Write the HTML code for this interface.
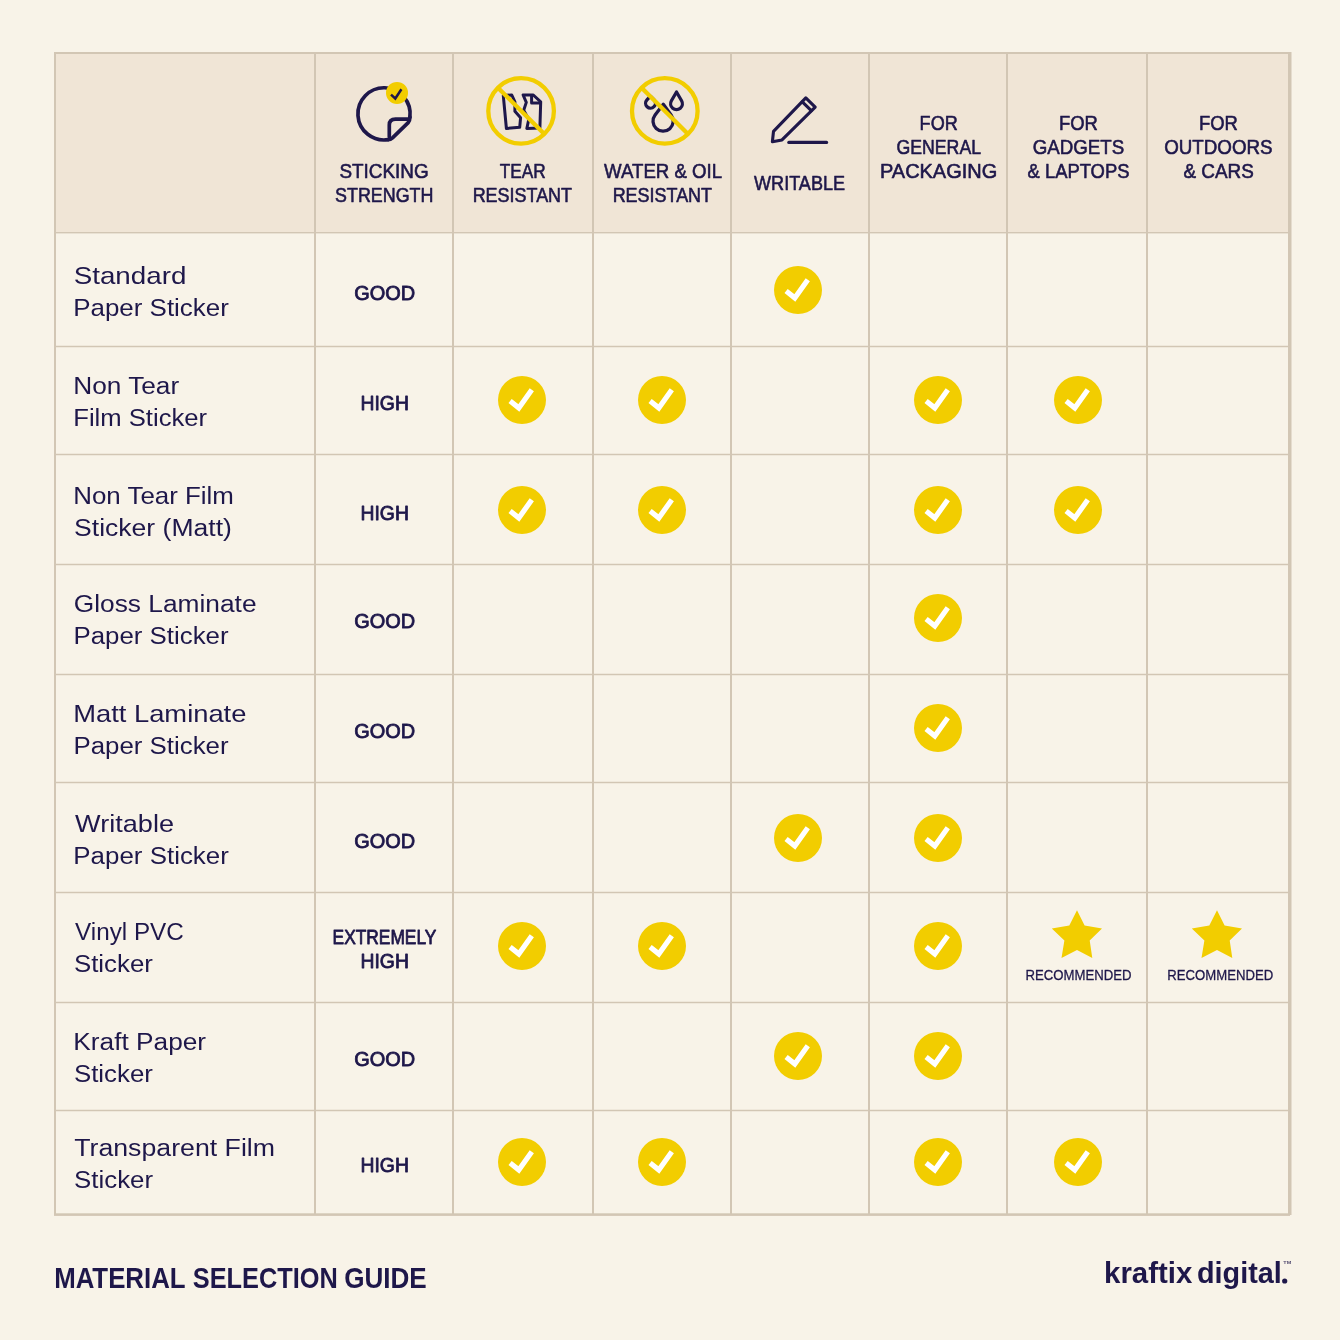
<!DOCTYPE html>
<html><head><meta charset="utf-8"><style>
html,body{margin:0;padding:0;background:#F8F3E8;}
body{width:1340px;height:1340px;overflow:hidden;}
svg{display:block;will-change:transform;}
text{font-family:"Liberation Sans", sans-serif;fill:#1E174A;}
</style></head><body>
<svg width="1340" height="1340" viewBox="0 0 1340 1340">
<rect width="1340" height="1340" fill="#F8F3E8"/>
<rect x="55" y="53" width="1234" height="180" fill="#F0E5D6"/>
<rect x="54" y="52" width="2" height="1163" fill="#D2C6B4"/>
<rect x="314" y="52" width="2" height="1163" fill="#D2C6B4"/>
<rect x="452" y="52" width="2" height="1163" fill="#D2C6B4"/>
<rect x="592" y="52" width="2" height="1163" fill="#D2C6B4"/>
<rect x="730" y="52" width="2" height="1163" fill="#D2C6B4"/>
<rect x="868" y="52" width="2" height="1163" fill="#D2C6B4"/>
<rect x="1006" y="52" width="2" height="1163" fill="#D2C6B4"/>
<rect x="1146" y="52" width="2" height="1163" fill="#D2C6B4"/>
<rect x="1288" y="52" width="3.5" height="1163" fill="#D2C6B4"/>
<rect x="54" y="52" width="1236" height="2" fill="#D2C6B4"/>
<rect x="54" y="232" width="1236" height="1.4" fill="#D2C6B4"/>
<rect x="54" y="345.75" width="1236" height="1.5" fill="#D2C6B4"/>
<rect x="54" y="453.75" width="1236" height="1.5" fill="#D2C6B4"/>
<rect x="54" y="563.75" width="1236" height="1.5" fill="#D2C6B4"/>
<rect x="54" y="673.75" width="1236" height="1.5" fill="#D2C6B4"/>
<rect x="54" y="781.75" width="1236" height="1.5" fill="#D2C6B4"/>
<rect x="54" y="891.75" width="1236" height="1.5" fill="#D2C6B4"/>
<rect x="54" y="1001.75" width="1236" height="1.5" fill="#D2C6B4"/>
<rect x="54" y="1109.75" width="1236" height="1.5" fill="#D2C6B4"/>
<rect x="54" y="1213.3" width="1236" height="2.6" fill="#D2C6B4"/>

<g fill="none" stroke="#1E174A" stroke-width="3.7" stroke-linecap="round" stroke-linejoin="round">
  <path d="M409.9 117.2 A26.1 26.1 0 1 0 388.2 139.6"/>
  <path d="M388.2 139.6 Q390.5 139.6 392.5 137.8 L408.2 122.6 Q409.9 121 409.9 117.2"/>
  <path d="M389.3 136.8 L389.3 125 Q389.3 119.1 395.5 119.1 L408.6 119.1"/>
</g>
<circle cx="397" cy="92.9" r="11" fill="#F2CD00"/>
<path d="M391 94.6 L395.3 98.5 L401.4 89.3" fill="none" stroke="#1E174A" stroke-width="2.5"/>

<g fill="none" stroke="#1E174A" stroke-width="3" stroke-linejoin="round">
  <path d="M503.3 95.6 L511.8 95 L514.9 101.8 L514.9 111.2 L520.6 117.7 L519.7 127.3 L506.4 128.5 Z"/>
  <path d="M523.1 95 L533.3 95 L540.7 101.8 L539.9 127.9 L526.8 128.5 L528.8 119.4 L523.7 110.3 L526.3 102.4 Z"/>
  <path d="M531.6 96.1 L531.6 102.9 L540.2 102.9"/>
</g>
<g fill="none" stroke="#F2CD00" stroke-width="4.3">
  <circle cx="521.1" cy="110.9" r="32.8"/>
  <line x1="497.9" y1="87.7" x2="544.3" y2="134.1"/>
</g>

<g fill="none" stroke="#1E174A" stroke-width="3.3" stroke-linejoin="round">
  <path d="M676.50 92.00 L681.59 100.72 A5.9 5.9 0 1 1 671.41 100.72 Z"/>
  <path d="M650.40 96.20 L653.95 99.72 A4.9 4.9 0 1 1 646.95 99.82 Z"/>
  <path d="M663.30 104.20 L671.27 115.16 A10.1 10.1 0 1 1 655.07 114.97 Z"/>
</g>
<g fill="none" stroke="#F2CD00" stroke-width="4.3">
  <circle cx="664.8" cy="110.9" r="32.8"/>
  <line x1="641.6" y1="87.7" x2="688" y2="134.1"/>
</g>

<g fill="none" stroke="#1E174A" stroke-width="3.1" stroke-linejoin="round" stroke-linecap="round">
  <path d="M772.4 141.7 L773.5 131.4 L805.8 97.9 L815.2 107.1 L782 139.9 Z"/>
  <path d="M802.3 101.8 L811.3 110.7"/>
  <path d="M788.8 142.4 L826.6 142.4"/>
</g>

<circle cx="798" cy="290" r="24" fill="#F2CD00"/><path d="M786.1 291.0 L794.8 297.9 L807.8 279.8" fill="none" stroke="#fff" stroke-width="5.2" stroke-linejoin="miter"/>
<circle cx="522" cy="400" r="24" fill="#F2CD00"/><path d="M510.1 401.0 L518.8 407.9 L531.8 389.8" fill="none" stroke="#fff" stroke-width="5.2" stroke-linejoin="miter"/>
<circle cx="662" cy="400" r="24" fill="#F2CD00"/><path d="M650.1 401.0 L658.8 407.9 L671.8 389.8" fill="none" stroke="#fff" stroke-width="5.2" stroke-linejoin="miter"/>
<circle cx="938" cy="400" r="24" fill="#F2CD00"/><path d="M926.1 401.0 L934.8 407.9 L947.8 389.8" fill="none" stroke="#fff" stroke-width="5.2" stroke-linejoin="miter"/>
<circle cx="1078" cy="400" r="24" fill="#F2CD00"/><path d="M1066.1 401.0 L1074.8 407.9 L1087.8 389.8" fill="none" stroke="#fff" stroke-width="5.2" stroke-linejoin="miter"/>
<circle cx="522" cy="510" r="24" fill="#F2CD00"/><path d="M510.1 511.0 L518.8 517.9 L531.8 499.8" fill="none" stroke="#fff" stroke-width="5.2" stroke-linejoin="miter"/>
<circle cx="662" cy="510" r="24" fill="#F2CD00"/><path d="M650.1 511.0 L658.8 517.9 L671.8 499.8" fill="none" stroke="#fff" stroke-width="5.2" stroke-linejoin="miter"/>
<circle cx="938" cy="510" r="24" fill="#F2CD00"/><path d="M926.1 511.0 L934.8 517.9 L947.8 499.8" fill="none" stroke="#fff" stroke-width="5.2" stroke-linejoin="miter"/>
<circle cx="1078" cy="510" r="24" fill="#F2CD00"/><path d="M1066.1 511.0 L1074.8 517.9 L1087.8 499.8" fill="none" stroke="#fff" stroke-width="5.2" stroke-linejoin="miter"/>
<circle cx="938" cy="618" r="24" fill="#F2CD00"/><path d="M926.1 619.0 L934.8 625.9 L947.8 607.8" fill="none" stroke="#fff" stroke-width="5.2" stroke-linejoin="miter"/>
<circle cx="938" cy="728" r="24" fill="#F2CD00"/><path d="M926.1 729.0 L934.8 735.9 L947.8 717.8" fill="none" stroke="#fff" stroke-width="5.2" stroke-linejoin="miter"/>
<circle cx="798" cy="838" r="24" fill="#F2CD00"/><path d="M786.1 839.0 L794.8 845.9 L807.8 827.8" fill="none" stroke="#fff" stroke-width="5.2" stroke-linejoin="miter"/>
<circle cx="938" cy="838" r="24" fill="#F2CD00"/><path d="M926.1 839.0 L934.8 845.9 L947.8 827.8" fill="none" stroke="#fff" stroke-width="5.2" stroke-linejoin="miter"/>
<circle cx="522" cy="946" r="24" fill="#F2CD00"/><path d="M510.1 947.0 L518.8 953.9 L531.8 935.8" fill="none" stroke="#fff" stroke-width="5.2" stroke-linejoin="miter"/>
<circle cx="662" cy="946" r="24" fill="#F2CD00"/><path d="M650.1 947.0 L658.8 953.9 L671.8 935.8" fill="none" stroke="#fff" stroke-width="5.2" stroke-linejoin="miter"/>
<circle cx="938" cy="946" r="24" fill="#F2CD00"/><path d="M926.1 947.0 L934.8 953.9 L947.8 935.8" fill="none" stroke="#fff" stroke-width="5.2" stroke-linejoin="miter"/>
<circle cx="798" cy="1056" r="24" fill="#F2CD00"/><path d="M786.1 1057.0 L794.8 1063.9 L807.8 1045.8" fill="none" stroke="#fff" stroke-width="5.2" stroke-linejoin="miter"/>
<circle cx="938" cy="1056" r="24" fill="#F2CD00"/><path d="M926.1 1057.0 L934.8 1063.9 L947.8 1045.8" fill="none" stroke="#fff" stroke-width="5.2" stroke-linejoin="miter"/>
<circle cx="522" cy="1162" r="24" fill="#F2CD00"/><path d="M510.1 1163.0 L518.8 1169.9 L531.8 1151.8" fill="none" stroke="#fff" stroke-width="5.2" stroke-linejoin="miter"/>
<circle cx="662" cy="1162" r="24" fill="#F2CD00"/><path d="M650.1 1163.0 L658.8 1169.9 L671.8 1151.8" fill="none" stroke="#fff" stroke-width="5.2" stroke-linejoin="miter"/>
<circle cx="938" cy="1162" r="24" fill="#F2CD00"/><path d="M926.1 1163.0 L934.8 1169.9 L947.8 1151.8" fill="none" stroke="#fff" stroke-width="5.2" stroke-linejoin="miter"/>
<circle cx="1078" cy="1162" r="24" fill="#F2CD00"/><path d="M1066.1 1163.0 L1074.8 1169.9 L1087.8 1151.8" fill="none" stroke="#fff" stroke-width="5.2" stroke-linejoin="miter"/>
<polygon points="1077.0,910.3 1084.6,925.6 1102.0,928.5 1089.7,940.4 1092.3,957.9 1077.0,950.1 1061.5,957.9 1064.4,940.4 1051.8,928.5 1069.3,925.6" fill="#F2CD00"/>
<polygon points="1217.0,910.3 1224.6,925.6 1242.0,928.5 1229.7,940.4 1232.3,957.9 1217.0,950.1 1201.5,957.9 1204.4,940.4 1191.8,928.5 1209.3,925.6" fill="#F2CD00"/>
<text transform="translate(339.42 178.10) scale(0.9313 1)" font-size="20.3" stroke="#1E174A" stroke-width="0.6" stroke-linejoin="round">STICKING</text>
<text transform="translate(335.05 201.90) scale(0.8820 1)" font-size="20.3" stroke="#1E174A" stroke-width="0.6" stroke-linejoin="round">STRENGTH</text>
<text transform="translate(499.81 178.20) scale(0.8489 1)" font-size="20.3" stroke="#1E174A" stroke-width="0.6" stroke-linejoin="round">TEAR</text>
<text transform="translate(472.63 201.80) scale(0.8850 1)" font-size="20.3" stroke="#1E174A" stroke-width="0.6" stroke-linejoin="round">RESISTANT</text>
<text transform="translate(604.08 178.20) scale(0.9188 1)" font-size="20.3" stroke="#1E174A" stroke-width="0.6" stroke-linejoin="round">WATER &amp; OIL</text>
<text transform="translate(612.63 201.80) scale(0.8850 1)" font-size="20.3" stroke="#1E174A" stroke-width="0.6" stroke-linejoin="round">RESISTANT</text>
<text transform="translate(754.07 189.60) scale(0.8902 1)" font-size="20.3" stroke="#1E174A" stroke-width="0.6" stroke-linejoin="round">WRITABLE</text>
<text transform="translate(919.62 129.90) scale(0.8885 1)" font-size="20.3" stroke="#1E174A" stroke-width="0.6" stroke-linejoin="round">FOR</text>
<text transform="translate(896.48 154.20) scale(0.8722 1)" font-size="20.3" stroke="#1E174A" stroke-width="0.6" stroke-linejoin="round">GENERAL</text>
<text transform="translate(880.00 178.10) scale(0.9838 1)" font-size="20.3" stroke="#1E174A" stroke-width="0.6" stroke-linejoin="round">PACKAGING</text>
<text transform="translate(1058.90 130.00) scale(0.9080 1)" font-size="20.3" stroke="#1E174A" stroke-width="0.6" stroke-linejoin="round">FOR</text>
<text transform="translate(1032.74 154.10) scale(0.9226 1)" font-size="20.3" stroke="#1E174A" stroke-width="0.6" stroke-linejoin="round">GADGETS</text>
<text transform="translate(1027.52 178.10) scale(0.9070 1)" font-size="20.3" stroke="#1E174A" stroke-width="0.6" stroke-linejoin="round">&amp; LAPTOPS</text>
<text transform="translate(1198.90 130.00) scale(0.9080 1)" font-size="20.3" stroke="#1E174A" stroke-width="0.6" stroke-linejoin="round">FOR</text>
<text transform="translate(1164.13 154.10) scale(0.9250 1)" font-size="20.3" stroke="#1E174A" stroke-width="0.6" stroke-linejoin="round">OUTDOORS</text>
<text transform="translate(1183.51 178.10) scale(0.9302 1)" font-size="20.3" stroke="#1E174A" stroke-width="0.6" stroke-linejoin="round">&amp; CARS</text>
<text transform="translate(354.21 299.70) scale(1.0071 1)" font-size="19.8" stroke="#1E174A" stroke-width="0.8" stroke-linejoin="round">GOOD</text>
<text transform="translate(360.54 409.80) scale(0.9770 1)" font-size="19.8" stroke="#1E174A" stroke-width="0.8" stroke-linejoin="round">HIGH</text>
<text transform="translate(360.54 520.00) scale(0.9770 1)" font-size="19.8" stroke="#1E174A" stroke-width="0.8" stroke-linejoin="round">HIGH</text>
<text transform="translate(354.21 628.40) scale(1.0071 1)" font-size="19.8" stroke="#1E174A" stroke-width="0.8" stroke-linejoin="round">GOOD</text>
<text transform="translate(354.21 738.40) scale(1.0071 1)" font-size="19.8" stroke="#1E174A" stroke-width="0.8" stroke-linejoin="round">GOOD</text>
<text transform="translate(354.21 848.10) scale(1.0071 1)" font-size="19.8" stroke="#1E174A" stroke-width="0.8" stroke-linejoin="round">GOOD</text>
<text transform="translate(354.21 1065.80) scale(1.0071 1)" font-size="19.8" stroke="#1E174A" stroke-width="0.8" stroke-linejoin="round">GOOD</text>
<text transform="translate(360.54 1172.10) scale(0.9770 1)" font-size="19.8" stroke="#1E174A" stroke-width="0.8" stroke-linejoin="round">HIGH</text>
<text transform="translate(332.56 943.80) scale(0.8761 1)" font-size="19.8" stroke="#1E174A" stroke-width="0.8" stroke-linejoin="round">EXTREMELY</text>
<text transform="translate(360.54 967.70) scale(0.9770 1)" font-size="19.8" stroke="#1E174A" stroke-width="0.8" stroke-linejoin="round">HIGH</text>
<text transform="translate(73.69 284.10) scale(1.1194 1)" font-size="24.8">Standard</text>
<text transform="translate(73.22 315.80) scale(1.0460 1)" font-size="24.8">Paper Sticker</text>
<text transform="translate(73.20 394.10) scale(1.0588 1)" font-size="24.8">Non Tear</text>
<text transform="translate(73.25 425.80) scale(1.0338 1)" font-size="24.8">Film Sticker</text>
<text transform="translate(73.23 504.10) scale(1.0444 1)" font-size="24.8">Non Tear Film</text>
<text transform="translate(74.04 535.80) scale(1.0708 1)" font-size="24.8">Sticker (Matt)</text>
<text transform="translate(73.68 611.80) scale(1.0619 1)" font-size="24.8">Gloss Laminate</text>
<text transform="translate(73.43 643.60) scale(1.0426 1)" font-size="24.8">Paper Sticker</text>
<text transform="translate(73.21 721.80) scale(1.1027 1)" font-size="24.8">Matt Laminate</text>
<text transform="translate(73.43 753.60) scale(1.0426 1)" font-size="24.8">Paper Sticker</text>
<text transform="translate(75.10 832.10) scale(1.0925 1)" font-size="24.8">Writable</text>
<text transform="translate(73.33 864.00) scale(1.0447 1)" font-size="24.8">Paper Sticker</text>
<text transform="translate(75.00 939.80) scale(0.9793 1)" font-size="24.8">Vinyl PVC</text>
<text transform="translate(73.97 971.70) scale(1.0419 1)" font-size="24.8">Sticker</text>
<text transform="translate(73.30 1049.80) scale(1.0590 1)" font-size="24.8">Kraft Paper</text>
<text transform="translate(73.97 1081.70) scale(1.0419 1)" font-size="24.8">Sticker</text>
<text transform="translate(74.17 1156.10) scale(1.0773 1)" font-size="24.8">Transparent Film</text>
<text transform="translate(74.07 1187.70) scale(1.0433 1)" font-size="24.8">Sticker</text>
<text transform="translate(1025.38 980.00) scale(0.8911 1)" font-size="14.8" stroke="#1E174A" stroke-width="0.3" stroke-linejoin="round">RECOMMENDED</text>
<text transform="translate(1167.28 980.00) scale(0.8894 1)" font-size="14.8" stroke="#1E174A" stroke-width="0.3" stroke-linejoin="round">RECOMMENDED</text>
<text transform="translate(54.15 1288.10) scale(0.8935 1)" font-size="28.9" font-weight="bold">MATERIAL</text>
<text transform="translate(192.79 1288.10) scale(0.8772 1)" font-size="28.9" font-weight="bold">SELECTION</text>
<text transform="translate(344.16 1288.10) scale(0.9026 1)" font-size="28.9" font-weight="bold">GUIDE</text>
<text transform="translate(1104.03 1283.40) scale(1.0220 1)" font-size="28.8" font-weight="bold">kraftix</text>
<text transform="translate(1196.95 1283.40) scale(1.0001 1)" font-size="28.8" font-weight="bold">digital</text>
<text transform="translate(1283.3 1264.2) scale(1.25 1)" font-size="4.4" font-weight="bold" fill-opacity="0.8">TM</text>
<circle cx="1284.7" cy="1281" r="2.6" fill="#1E174A"/>
</svg>
</body></html>
